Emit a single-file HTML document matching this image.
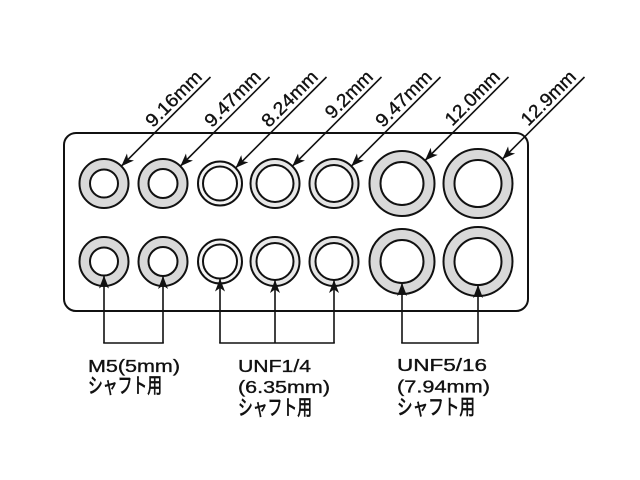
<!DOCTYPE html>
<html>
<head>
<meta charset="utf-8">
<style>
html,body{margin:0;padding:0;background:#fff;}
svg{display:block;}
text{font-family:"Liberation Sans","Noto Sans CJK JP",sans-serif;fill:#111;stroke:#111;stroke-width:0.35;}
text.jp{font-family:"Liberation Sans","Noto Sans CJK JP",sans-serif;font-size:21px;stroke-width:0.7;}
</style>
</head>
<body>
<svg width="640" height="480" viewBox="0 0 640 480" xmlns="http://www.w3.org/2000/svg">
<defs>
<marker id="ah" markerUnits="userSpaceOnUse" markerWidth="16" markerHeight="14" refX="13" refY="6" orient="auto">
<path d="M0,1 L13,6 L0,11 L3.5,6 Z" fill="#111"/>
</marker>
</defs>

<rect x="64" y="133" width="464" height="178" rx="12" ry="12" fill="none" stroke="#111" stroke-width="2"/>

<g stroke="#111" stroke-width="2">
<circle cx="104" cy="183.5" r="24.5" fill="#d9d9d9"/><circle cx="104" cy="183.5" r="14" fill="#fff"/>
<circle cx="163" cy="183.5" r="24.5" fill="#d9d9d9"/><circle cx="163" cy="183.5" r="14.5" fill="#fff"/>
<circle cx="220" cy="183.5" r="22" fill="#f4f4f4"/><circle cx="220" cy="183.5" r="17" fill="#fff"/>
<circle cx="275" cy="183.5" r="24.5" fill="#e8e8e8"/><circle cx="275" cy="183.5" r="18.5" fill="#fff"/>
<circle cx="334" cy="183.5" r="24.5" fill="#e4e4e4"/><circle cx="334" cy="183.5" r="18.5" fill="#fff"/>
<circle cx="402" cy="183.5" r="32.5" fill="#d9d9d9"/><circle cx="402" cy="183.5" r="21.5" fill="#fff"/>
<circle cx="478" cy="183.5" r="34.5" fill="#d9d9d9"/><circle cx="478" cy="183.5" r="23.5" fill="#fff"/>
</g>

<g stroke="#111" stroke-width="2">
<circle cx="104" cy="261.5" r="24.5" fill="#d9d9d9"/><circle cx="104" cy="261.5" r="14" fill="#fff"/>
<circle cx="163" cy="261.5" r="24.5" fill="#d9d9d9"/><circle cx="163" cy="261.5" r="14.5" fill="#fff"/>
<circle cx="220" cy="261.5" r="22" fill="#f4f4f4"/><circle cx="220" cy="261.5" r="17" fill="#fff"/>
<circle cx="275" cy="261.5" r="24.5" fill="#e8e8e8"/><circle cx="275" cy="261.5" r="18.5" fill="#fff"/>
<circle cx="334" cy="261.5" r="24.5" fill="#e4e4e4"/><circle cx="334" cy="261.5" r="18.5" fill="#fff"/>
<circle cx="402" cy="261.5" r="32.5" fill="#d9d9d9"/><circle cx="402" cy="261.5" r="21.5" fill="#fff"/>
<circle cx="478" cy="261.5" r="34.5" fill="#d9d9d9"/><circle cx="478" cy="261.5" r="23.5" fill="#fff"/>
</g>

<g stroke="#111" stroke-width="1.6" fill="none" marker-end="url(#ah)">
<line x1="210.5" y1="77" x2="121.3" y2="166.2"/>
<line x1="269.5" y1="77" x2="180.3" y2="166.2"/>
<line x1="326.5" y1="77" x2="235.6" y2="167.9"/>
<line x1="381.5" y1="77" x2="292.3" y2="166.2"/>
<line x1="440.5" y1="77" x2="351.3" y2="166.2"/>
<line x1="508.5" y1="77" x2="425" y2="160.5"/>
<line x1="584.5" y1="77" x2="502.4" y2="159.1"/>
</g>

<g font-size="18.5" text-anchor="end">
<text x="203.1" y="78" transform="rotate(-45 203.1 78)" textLength="71" lengthAdjust="spacingAndGlyphs">9.16mm</text>
<text x="262.1" y="78" transform="rotate(-45 262.1 78)" textLength="71" lengthAdjust="spacingAndGlyphs">9.47mm</text>
<text x="319.1" y="78" transform="rotate(-45 319.1 78)" textLength="71" lengthAdjust="spacingAndGlyphs">8.24mm</text>
<text x="374.1" y="78" transform="rotate(-45 374.1 78)" textLength="59" lengthAdjust="spacingAndGlyphs">9.2mm</text>
<text x="433.1" y="78" transform="rotate(-45 433.1 78)" textLength="71" lengthAdjust="spacingAndGlyphs">9.47mm</text>
<text x="501.1" y="78" transform="rotate(-45 501.1 78)" textLength="69" lengthAdjust="spacingAndGlyphs">12.0mm</text>
<text x="577.1" y="78" transform="rotate(-45 577.1 78)" textLength="69" lengthAdjust="spacingAndGlyphs">12.9mm</text>
</g>

<g stroke="#111" stroke-width="1.6" fill="none">
<line x1="104" y1="343" x2="104" y2="275.5" marker-end="url(#ah)"/>
<line x1="163" y1="343" x2="163" y2="276" marker-end="url(#ah)"/>
<line x1="220" y1="343" x2="220" y2="278.5" marker-end="url(#ah)"/>
<line x1="275" y1="343" x2="275" y2="280" marker-end="url(#ah)"/>
<line x1="334" y1="343" x2="334" y2="280" marker-end="url(#ah)"/>
<line x1="402" y1="343" x2="402" y2="283" marker-end="url(#ah)"/>
<line x1="478" y1="343" x2="478" y2="285" marker-end="url(#ah)"/>
<line x1="103.2" y1="343" x2="163.8" y2="343"/>
<line x1="219.2" y1="343" x2="334.8" y2="343"/>
<line x1="401.2" y1="343" x2="478.8" y2="343"/>
</g>

<g font-size="17.5">
<text x="88" y="372" textLength="92" lengthAdjust="spacingAndGlyphs">M5(5mm)</text>
<text class="jp" x="88" y="393" textLength="74" lengthAdjust="spacingAndGlyphs">シャフト用</text>

<text x="238" y="372" textLength="73" lengthAdjust="spacingAndGlyphs">UNF1/4</text>
<text x="238" y="393" textLength="92" lengthAdjust="spacingAndGlyphs">(6.35mm)</text>
<text class="jp" x="238" y="415" textLength="74" lengthAdjust="spacingAndGlyphs">シャフト用</text>

<text x="397" y="371" textLength="90" lengthAdjust="spacingAndGlyphs">UNF5/16</text>
<text x="397" y="392.5" textLength="93" lengthAdjust="spacingAndGlyphs">(7.94mm)</text>
<text class="jp" x="397" y="414.5" textLength="78" lengthAdjust="spacingAndGlyphs">シャフト用</text>
</g>
</svg>
</body>
</html>
